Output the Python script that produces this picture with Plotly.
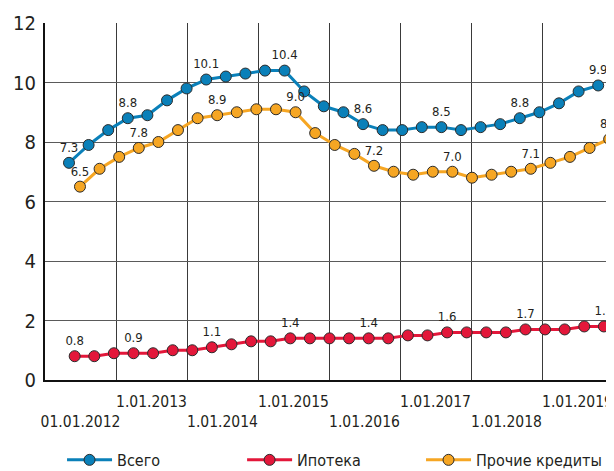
import plotly.graph_objects as go

# ---- data ----
periods = list(range(28))
total = [7.3, 7.9, 8.4, 8.8, 8.9, 9.4, 9.8, 10.1, 10.2, 10.3, 10.4, 10.4, 9.7, 9.2,
         9.0, 8.6, 8.4, 8.4, 8.5, 8.5, 8.4, 8.5, 8.6, 8.8, 9.0, 9.3, 9.7, 9.9]
mortgage = [0.8, 0.8, 0.9, 0.9, 0.9, 1.0, 1.0, 1.1, 1.2, 1.3, 1.3, 1.4, 1.4, 1.4,
            1.4, 1.4, 1.4, 1.5, 1.5, 1.6, 1.6, 1.6, 1.6, 1.7, 1.7, 1.7, 1.8, 1.8]
other = [6.5, 7.1, 7.5, 7.8, 8.0, 8.4, 8.8, 8.9, 9.0, 9.1, 9.1, 9.0, 8.3, 7.9,
         7.6, 7.2, 7.0, 6.9, 7.0, 7.0, 6.8, 6.9, 7.0, 7.1, 7.3, 7.5, 7.8, 8.1]
label_idx = [0, 3, 7, 11, 15, 19, 23, 27]
year_labels = ["01.01.2012", "1.01.2013", "1.01.2014", "1.01.2015",
               "1.01.2016", "1.01.2017", "1.01.2018", "1.01.2019"]
series_names = ["Всего", "Ипотека", "Прочие кредиты"]
y_ticks = [0, 2, 4, 6, 8, 10, 12]

# ---- styling ----
FONT = "DejaVu Sans Condensed, Liberation Sans Narrow, sans-serif"
TXT = "#231f20"
colors = ["#0a80b9", "#e3173a", "#f6a623"]
dodge = [0.0, 0.29, 0.56]          # small horizontal offsets between series
legend_ids = ["legend", "legend2", "legend3"]
legend_x = [0.030, 0.347, 0.662]    # left edges of the three legend entries
step_px = 19.6                      # pixel distance between periods
x_min = -24 / step_px
x_max = 544 / step_px
cell = 71 / step_px                 # width of one year cell
n_cells = len(year_labels)
boundaries = [x_min + k * cell for k in range(1, n_cells)]
centers = [x_min + (k + 0.5) * cell for k in range(n_cells)]
# alternate rows: even cells on the lower row
tick_text = [lab if k % 2 else " <br>" + lab for k, lab in enumerate(year_labels)]


def labels(vals):
    return [f"{v:.1f}" if i in label_idx else "" for i, v in enumerate(vals)]


fig = go.Figure()
for name, vals, col, dx, lg in zip(series_names, [total, mortgage, other], colors,
                                    dodge, legend_ids):
    fig.add_trace(go.Scatter(
        x=[p + dx for p in periods], y=vals, name=name, legend=lg,
        mode="lines+markers+text",
        line=dict(color=col, width=3),
        marker=dict(size=11, color=col, line=dict(color="#2b2b2b", width=1)),
        text=labels(vals), textposition="top center",
        textfont=dict(family=FONT, size=13, color=TXT),
        cliponaxis=True,
    ))

legend_style = dict(orientation="h", xanchor="left", y=-0.224, yanchor="middle",
                    itemwidth=45, font=dict(size=16, color=TXT),
                    bgcolor="rgba(0,0,0,0)")

# page body has an 8px margin: the figure is sized/offset to compensate
fig.update_layout(
    width=640, height=520,
    margin=dict(l=37, r=35, t=15, b=148),
    paper_bgcolor="white", plot_bgcolor="white",
    font=dict(family=FONT, color=TXT),
    xaxis=dict(
        range=[x_min, x_max], showgrid=False, automargin=False,
        tickmode="array", tickvals=centers, ticktext=tick_text, tickangle=0,
        tickfont=dict(size=15.5, color=TXT), ticks="", ticklabelstandoff=6,
        ticklabeloverflow="allow",
        showline=True, linecolor="#111", linewidth=2, zeroline=False,
        minor=dict(tickmode="array", tickvals=boundaries, showgrid=True,
                   gridcolor="#3a3a3a", gridwidth=1.3, ticks=""),
    ),
    yaxis=dict(
        range=[0, 12], tickmode="array", tickvals=y_ticks, automargin=False,
        showgrid=True, gridcolor="#5a5a5a", gridwidth=1.3,
        showline=True, linecolor="#111", linewidth=2, zeroline=False,
        tickfont=dict(size=20, color=TXT), ticks="", ticklabelstandoff=3,
    ),
    shapes=[dict(type="line", xref="paper", yref="paper", x0=1, x1=1, y0=0, y1=1,
                 line=dict(color="#666", width=1.5))],
    legend=dict(x=legend_x[0], **legend_style),
    legend2=dict(x=legend_x[1], **legend_style),
    legend3=dict(x=legend_x[2], **legend_style),
    showlegend=True,
)

fig.write_html("out.html")
